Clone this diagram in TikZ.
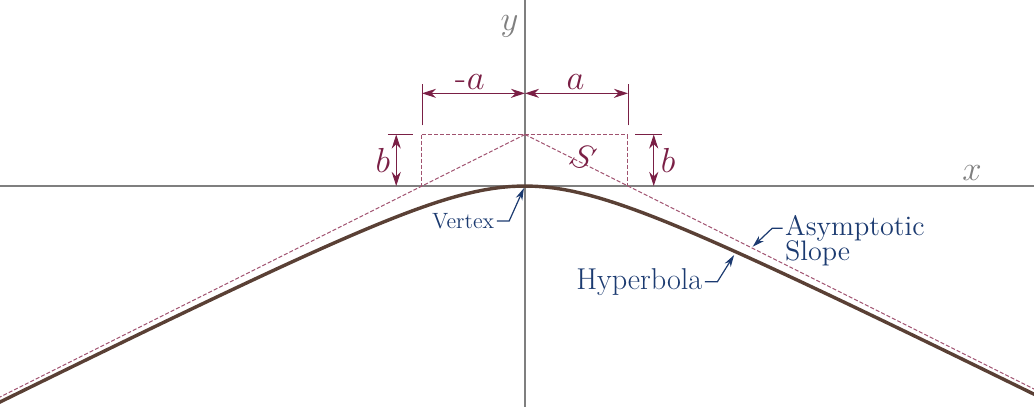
\documentclass[tikz,border=0pt]{standalone}
\usetikzlibrary{arrows.meta,positioning}
\definecolor{dimred}{HTML}{7A1F45}
\definecolor{asymred}{HTML}{A0526F}
\definecolor{lblblue}{HTML}{1B3A70}
\definecolor{curvebrown}{HTML}{5A4035}
\definecolor{axisgray}{HTML}{7F7F7F}
\begin{document}
\begin{tikzpicture}[scale=1.8, line width=0.6pt,
  axis/.style={draw=axisgray, line width=0.8pt},
  dimline/.style={draw=dimred, line width=0.45pt},
  dimarrow/.style={dimline, {Stealth[length=7pt,width=4.5pt]}-{Stealth[length=7pt,width=4.5pt]}},
  guide/.style={draw=asymred, line width=0.5pt, dash pattern=on 2pt off 1pt},
  leader/.style={draw=lblblue, line width=0.6pt, -{Stealth[length=6pt,width=3.5pt]}},
  lbl/.style={text=lblblue, inner sep=1pt, font=\fontsize{14}{15}\selectfont},
  dimlbl/.style={text=dimred, inner sep=1pt, font=\fontsize{18}{20}\selectfont},
  axlbl/.style={text=axisgray, inner sep=1pt, font=\fontsize{18}{20}\selectfont}]
  \useasboundingbox (-5.097,-2.136) rectangle (4.942,1.806);
  \clip (-5.097,-2.136) rectangle (4.942,1.806);
  \coordinate (O) at (0.000,0.000);
  \coordinate (P) at (0.000,0.500);
  \coordinate (L) at (-1.000,0.000);
  \coordinate (R) at (1.000,0.000);
  \coordinate (LP) at (-1.000,0.500);
  \coordinate (RP) at (1.000,0.500);
  \draw[axis] (-5.200,0.000) -- (5.000,0.000);
  \draw[axis] (0.000,-2.200) -- (0.000,1.900);
  \node[axlbl] (ylab) at (-0.150,1.550) {$y$};
  \node[axlbl] (xlab) at (4.340,0.130) {$x$};
  \draw[guide] (P) -- (-5.300,-2.150);
  \draw[guide] (P) -- (5.100,-2.050);
  \draw[guide] (LP) -- (RP);
  \draw[guide] (LP) -- (L);
  \draw[guide] (RP) -- (R);
  \draw[curvebrown, line width=1.7pt] plot[domain=-5.2:5.0, samples=120] (\x,{0.5*(1-sqrt(1+\x*\x))});
  \draw[dimline] (-1.000,0.590) -- (-1.000,0.990);
  \draw[dimline] (1.000,0.590) -- (1.000,0.990);
  \draw[dimline] (-1.330,0.500) -- (-1.090,0.500);
  \draw[dimline] (1.070,0.500) -- (1.330,0.500);
  \draw[dimarrow] (-1.000,0.900) -- (0.000,0.900);
  \draw[dimarrow] (0.000,0.900) -- (1.000,0.900);
  \draw[dimarrow] (-1.250,0.000) -- (-1.250,0.500);
  \draw[dimarrow] (1.250,0.000) -- (1.250,0.500);
  \node[dimlbl] (aneg) at (-0.530,1.010) {-$a$};
  \node[dimlbl] (apos) at (0.490,1.010) {$a$};
  \node[dimlbl] (bleft) at (-1.380,0.250) {$b$};
  \node[dimlbl] (bright) at (1.390,0.250) {$b$};
  \node[dimlbl, rotate=-22] (slope) at (0.560,0.280) {$S$};
  \node[lbl, font=\fontsize{11}{13}\selectfont] (vtx) at (-0.600,-0.340) {Vertex};
  \draw[leader] (vtx.east) -- ++(0.120,0) -- (-0.010,-0.020);
  \node[lbl, font=\fontsize{15}{17}\selectfont] (hyp) at (1.110,-0.930) {Hyperbola};
  \coordinate (hyptip) at (2.030,-0.670);
  \draw[leader] (hyp.east) -- ++(0.120,0) -- (hyptip);
  \node[lbl, anchor=west] (asy) at (2.500,-0.410) {Asymptotic};
  \node[lbl, anchor=base west] (slp) at ([yshift=-7pt]asy.base west) {Slope};
  \coordinate (asytip) at (2.210,-0.590);
  \draw[leader] (asy.west) -- ++(-0.100,0) -- (asytip);
\end{tikzpicture}
\end{document}
